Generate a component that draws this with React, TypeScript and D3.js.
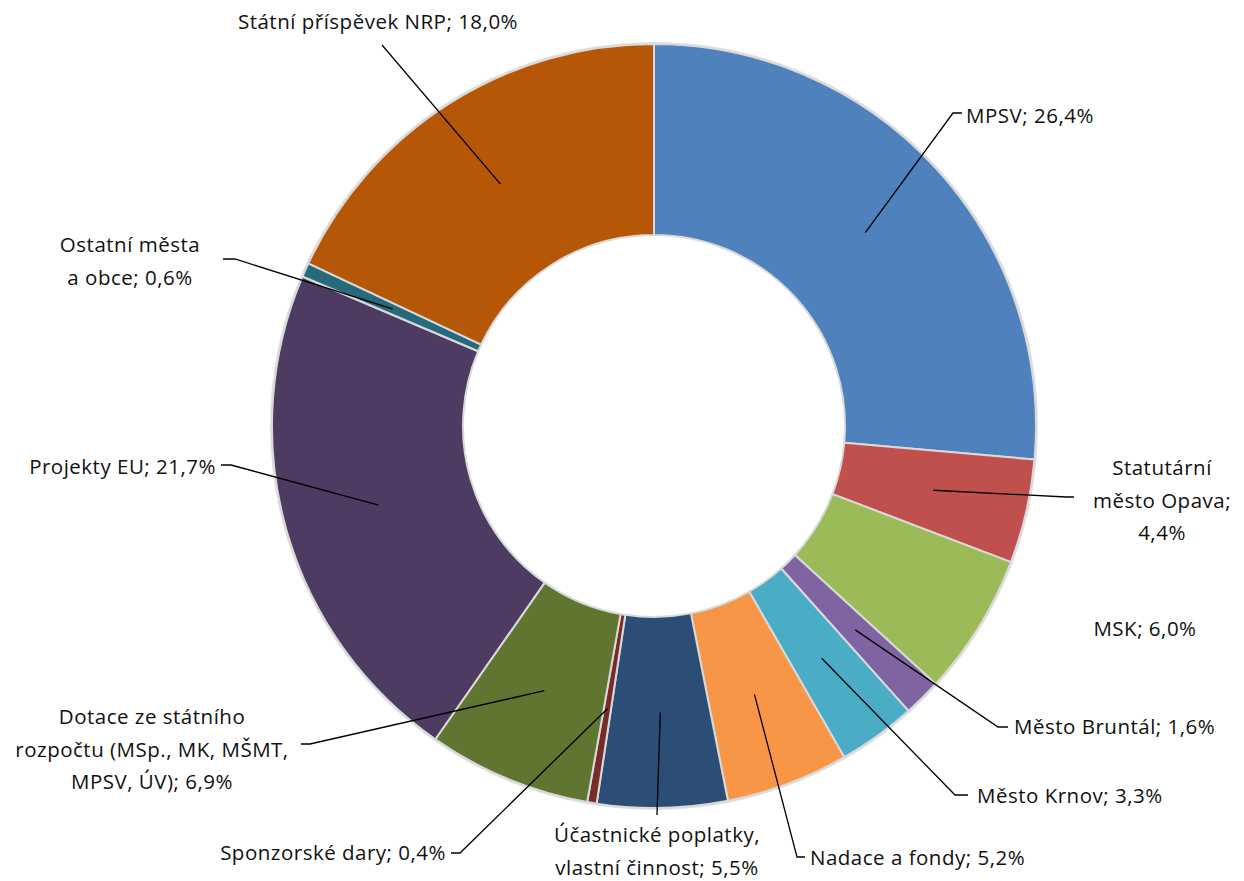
import React from "react";
import * as d3 from "d3";

const categories = [
  "MPSV",
  "Statutární město Opava",
  "MSK",
  "Město Bruntál",
  "Město Krnov",
  "Nadace a fondy",
  "Účastnické poplatky, vlastní činnost",
  "Sponzorské dary",
  "Dotace ze státního rozpočtu (MSp., MK, MŠMT, MPSV, ÚV)",
  "Projekty EU",
  "Ostatní města a obce",
  "Státní příspěvek NRP",
];
const values = [26.4, 4.4, 6.0, 1.6, 3.3, 5.2, 5.5, 0.4, 6.9, 21.7, 0.6, 18.0];
const valueLabels = ["26,4%", "4,4%", "6,0%", "1,6%", "3,3%", "5,2%", "5,5%", "0,4%", "6,9%", "21,7%", "0,6%", "18,0%"];
const labelLines = [
  ["MPSV; 26,4%"],
  ["Statutární", "město Opava;", "4,4%"],
  ["MSK; 6,0%"],
  ["Město Bruntál; 1,6%"],
  ["Město Krnov; 3,3%"],
  ["Nadace a fondy; 5,2%"],
  ["Účastnické poplatky,", "vlastní činnost; 5,5%"],
  ["Sponzorské dary; 0,4%"],
  ["Dotace ze státního", "rozpočtu (MSp., MK, MŠMT,", "MPSV, ÚV); 6,9%"],
  ["Projekty EU; 21,7%"],
  ["Ostatní města", "a obce; 0,6%"],
  ["Státní příspěvek NRP; 18,0%"],
];
const colors = ["#4F81BD", "#C0504D", "#9BBB59", "#8064A2", "#4BACC6", "#F79646", "#2C4D75", "#772C2A", "#5F7530", "#4D3B62", "#276A7C", "#B65708"];

// label layout: text anchor position, alignment, leader elbow (null = no leader)
type Layout = { x: number; y: number; anchor: "start" | "middle" | "end"; elbow: [number, number] | null; tail: [number, number] | null };
const layout: Layout[] = [
  { x: 966, y: 123, anchor: "start", elbow: [953, 113], tail: [962, 113] },
  { x: 1162, y: 475, anchor: "middle", elbow: [1066, 497], tail: [1074, 497] },
  { x: 1145, y: 636, anchor: "middle", elbow: null, tail: null },
  { x: 1014, y: 734, anchor: "start", elbow: [998, 727], tail: [1008, 727] },
  { x: 977, y: 803, anchor: "start", elbow: [955, 795], tail: [968, 795] },
  { x: 810, y: 865, anchor: "start", elbow: [797, 857], tail: [805, 857] },
  { x: 657, y: 842, anchor: "middle", elbow: [657, 815], tail: null },
  { x: 446, y: 860, anchor: "end", elbow: [460, 853], tail: [451, 853] },
  { x: 152, y: 724, anchor: "middle", elbow: [310, 744], tail: [301, 744] },
  { x: 216, y: 474, anchor: "end", elbow: [231, 465], tail: [221, 465] },
  { x: 130, y: 252, anchor: "middle", elbow: [235, 259], tail: [223, 259] },
  { x: 378, y: 29, anchor: "middle", elbow: [382, 45], tail: null },
];

const W = 1244;
const H = 881;
const cx = 654;
const cy = 426;
const outerR = 382;
const innerR = 191;

export default function App() {
  const pie = d3.pie<number>().sort(null).value((d) => d);
  const arcs = pie(values);
  const arcGen = d3.arc<d3.PieArcDatum<number>>().innerRadius(innerR).outerRadius(outerR);
  const midR = (innerR + outerR) / 2;
  const centroidArc = d3.arc<d3.PieArcDatum<number>>().innerRadius(midR).outerRadius(midR);
  const lineH = 32.5;

  return (
    <svg width={W} height={H} style={{ position: "absolute", left: 0, top: 0, background: "#fff" }}
      fontFamily="'Open Sans', sans-serif">
      <g transform={`translate(${cx},${cy})`}>
        <circle r={outerR + 1} fill="none" stroke="#e3e3e3" strokeWidth={2} />
        {arcs.map((a, i) => (
          <path key={categories[i]} d={arcGen(a) || ""} fill={colors[i]} stroke="#d9d9d9" strokeWidth={2} strokeLinejoin="round" />
        ))}
      </g>
      {arcs.map((a, i) => {
        const L = layout[i];
        if (!L.elbow) return null;
        const [px, py] = centroidArc.centroid(a);
        const pts: [number, number][] = [[cx + px, cy + py], L.elbow];
        if (L.tail) pts.push(L.tail);
        return (
          <polyline key={"l" + i} points={pts.map((p) => p.join(",")).join(" ")} fill="none" stroke="#000" strokeWidth={1.3} />
        );
      })}
      {layout.map((L, i) => (
        <text key={"t" + i} x={L.x} y={L.y} textAnchor={L.anchor} fontSize={20.5} letterSpacing={0.5} fill="#111">
          {labelLines[i].map((ln, j) => (
            <tspan key={j} x={L.x} dy={j === 0 ? 0 : lineH}>{ln}</tspan>
          ))}
        </text>
      ))}
    </svg>
  );
}
